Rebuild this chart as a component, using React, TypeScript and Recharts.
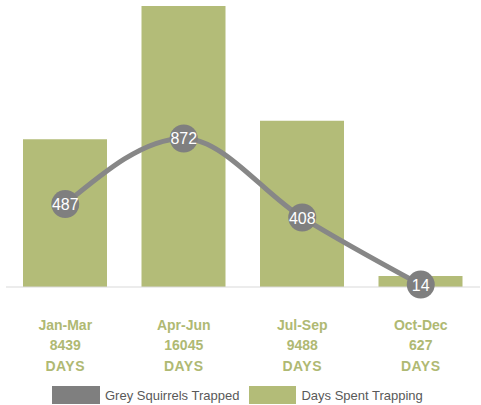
import { ComposedChart, Bar, Line, XAxis, YAxis, LabelList } from "recharts"

const quarters = ["Jan-Mar", "Apr-Jun", "Jul-Sep", "Oct-Dec"]
const daysSpent = [8439, 16045, 9488, 627]
const squirrelsTrapped = [487, 872, 408, 14]

const BAR_GREEN = "#B3BC78"
const TEXT_GREEN = "#AFB973"
const GREY = "#878787"
const FONT = "'Liberation Sans', Arial, sans-serif"

const chartData = quarters.map((quarter, i) => ({
  quarter,
  days: daysSpent[i],
  squirrels: squirrelsTrapped[i]
}))

function QuarterTick(props: any) {
  const { x, y, payload } = props
  const row = chartData.find((d) => d.quarter === payload.value)
  return (
    <g>
      <text
        x={x}
        y={y}
        textAnchor="middle"
        fill={TEXT_GREEN}
        fontFamily={FONT}
        fontWeight="bold"
        fontSize={14}
      >
        <tspan x={x} dy={35}>{payload.value}</tspan>
        <tspan x={x} dy={20}>{row ? row.days : ""}</tspan>
        <tspan x={x} dy={21} letterSpacing={0.5}>DAYS</tspan>
      </text>
    </g>
  )
}

function PointDot(props: any) {
  const { cx, cy, index } = props
  return <circle key={index} cx={cx} cy={cy} r={14} fill="#7F7F7F" />
}

function PointLabel(props: any) {
  const { x, y, value } = props
  return (
    <text
      x={x}
      y={y + 6}
      textAnchor="middle"
      fill="#ffffff"
      fontFamily={FONT}
      fontSize={16}
    >
      {value}
    </text>
  )
}

export default function App() {
  return (
    <div
      style={{
        position: "absolute",
        left: 0,
        top: 0,
        width: 481,
        height: 405,
        background: "#ffffff"
      }}
    >
      <ComposedChart
        width={481}
        height={405}
        data={chartData}
        margin={{ top: 6, right: 1, left: 6, bottom: 0 }}
      >
        <XAxis
          dataKey="quarter"
          height={118}
          axisLine={{ stroke: "#D9D9D9", strokeWidth: 1 }}
          tickLine={false}
          tick={<QuarterTick />}
          interval={0}
        />
        <YAxis yAxisId="days" hide domain={[0, 16045]} />
        <YAxis yAxisId="squirrels" hide orientation="right" domain={[0, 1650]} />

        <Bar
          yAxisId="days"
          dataKey="days"
          name="Days Spent Trapping"
          fill={BAR_GREEN}
          barSize={84}
          isAnimationActive={false}
        />

        <Line
          yAxisId="squirrels"
          dataKey="squirrels"
          name="Grey Squirrels Trapped"
          type="monotone"
          stroke={GREY}
          strokeWidth={5}
          dot={PointDot}
          activeDot={false}
          isAnimationActive={false}
        >
          <LabelList dataKey="squirrels" content={PointLabel} />
        </Line>
      </ComposedChart>

      <div
        style={{
          position: "absolute",
          top: 386,
          left: 52,
          display: "flex",
          alignItems: "center",
          fontFamily: FONT,
          fontSize: 13,
          color: "#595959",
          whiteSpace: "nowrap"
        }}
      >
        <span style={{ width: 48, height: 18, background: "#7F7F7F", display: "inline-block" }} />
        <span style={{ marginLeft: 5 }}>Grey Squirrels Trapped</span>
        <span
          style={{
            width: 47,
            height: 18,
            background: BAR_GREEN,
            display: "inline-block",
            marginLeft: 10
          }}
        />
        <span style={{ marginLeft: 5 }}>Days Spent Trapping</span>
      </div>
    </div>
  )
}
